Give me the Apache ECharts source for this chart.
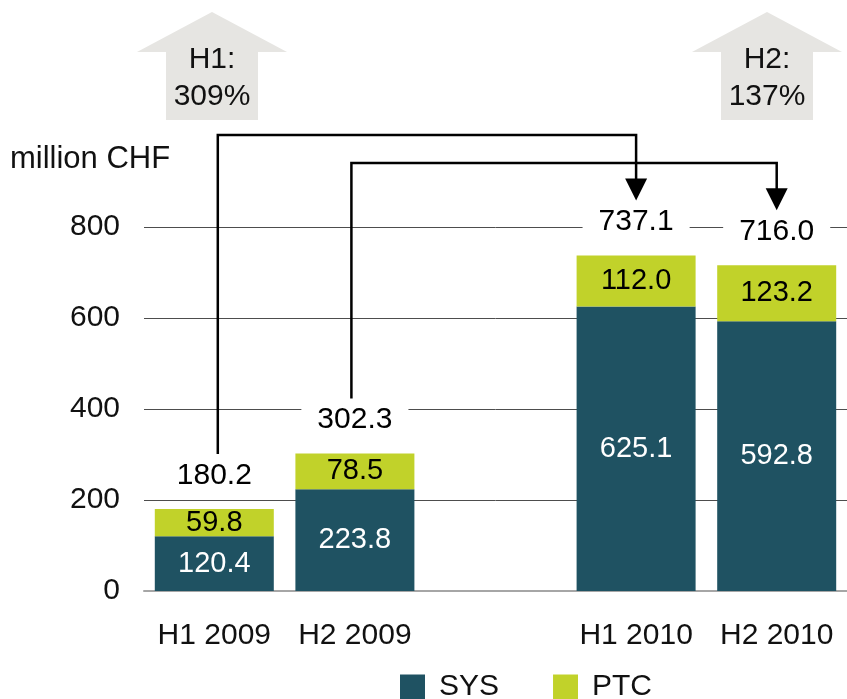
<!DOCTYPE html>
<html>
<head>
<meta charset="utf-8">
<title>SYS / PTC sales by half-year</title>
<script src="https://cdn.jsdelivr.net/npm/echarts@6/dist/echarts.min.js"></script>
<style>
  html, body { margin: 0; padding: 0; background: #ffffff; }
  #chart { width: 847px; height: 699px; }
</style>
</head>
<body>
<div id="chart"></div>
<script>
// Half-year periods; the blank slot separates 2009 from 2010
const categories = ['H1 2009', 'H2 2009', '', 'H1 2010', 'H2 2010'];
// Segment values, million CHF
const sysValues = [120.4, 223.8, null, 625.1, 592.8];
const ptcValues = [59.8, 78.5, null, 112.0, 123.2];
// Value axis
const yMin = 0;
const yMax = 800;
const yStep = 200;
// Year-on-year comparisons: [from period, to period, badge tag]
const comparisons = [
  ['H1 2009', 'H1 2010', 'H1'],
  ['H2 2009', 'H2 2010', 'H2']
];

const totals = sysValues.map((v, i) =>
  v == null ? null : Math.round((v + ptcValues[i]) * 10) / 10);

const FONT = "'Liberation Sans', Arial, Helvetica, sans-serif";
const SYS_COLOR = '#1f5262';
const PTC_COLOR = '#c1d22a';

const chart = echarts.init(document.getElementById('chart'), null, { renderer: 'canvas' });

chart.setOption({
  animation: false,
  backgroundColor: '#ffffff',
  textStyle: { fontFamily: FONT },
  grid: { left: 144, right: -2, top: 227, bottom: 108, containLabel: false },
  legend: {
    data: ['SYS', 'PTC'],
    left: 395,
    top: 667,
    itemWidth: 25,
    itemHeight: 25,
    itemGap: 54,
    icon: 'rect',
    textStyle: { fontFamily: FONT, fontSize: 30, color: '#111', padding: [0, 0, 0, 9] }
  },
  xAxis: {
    type: 'category',
    data: categories,
    axisTick: { show: false },
    axisLine: { show: true, lineStyle: { color: '#a6a6a6', width: 2 } },
    axisLabel: { interval: 0, fontFamily: FONT, fontSize: 30, color: '#111', margin: 30 }
  },
  yAxis: {
    type: 'value',
    min: yMin,
    max: yMax,
    interval: yStep,
    axisLine: { show: false },
    axisTick: { show: false },
    splitLine: { lineStyle: { color: '#4d4d4d', width: 1 } },
    axisLabel: { fontFamily: FONT, fontSize: 30, color: '#111', margin: 24 }
  },
  series: [
    {
      name: 'SYS',
      type: 'bar',
      stack: 'sales',
      barWidth: 119,
      data: sysValues,
      itemStyle: { color: SYS_COLOR },
      label: {
        show: true,
        position: 'inside',
        fontFamily: FONT,
        fontSize: 29,
        color: '#ffffff',
        formatter: p => p.value.toFixed(1)
      }
    },
    {
      name: 'PTC',
      type: 'bar',
      stack: 'sales',
      barWidth: 119,
      data: ptcValues,
      itemStyle: { color: PTC_COLOR },
      label: {
        show: true,
        position: 'inside',
        fontFamily: FONT,
        fontSize: 29,
        color: '#000000',
        formatter: p => p.value.toFixed(1)
      }
    },
    {
      // Period totals written above each stack
      name: 'Total',
      type: 'scatter',
      data: totals,
      symbolSize: 1,
      itemStyle: { color: 'rgba(255,255,255,0)', opacity: 1 },
      silent: true,
      z: 5,
      label: {
        show: true,
        position: 'top',
        distance: 16,
        fontFamily: FONT,
        fontSize: 30,
        lineHeight: 34,
        color: '#000000',
        opacity: 1,
        backgroundColor: '#ffffff',
        padding: [0, 16],
        formatter: p => p.value.toFixed(1)
      }
    }
  ]
});

// Connector arrows and growth badges, placed from the chart's own scale
const railY = [135, 163];      // heights of the horizontal connector runs
const lineGap = 55;            // space kept between bar top and connector end
const startShift = [3.5, -3.5];
const headW = 22;
const headH = 22;

function topOf(cat) {
  const i = categories.indexOf(cat);
  return chart.convertToPixel({ xAxisIndex: 0, yAxisIndex: 0 }, [cat, totals[i]]);
}

const graphics = [];

comparisons.forEach(([from, to], k) => {
  const a = topOf(from);
  const b = topOf(to);
  const x0 = a[0] + startShift[k];
  const y0 = a[1] - lineGap;
  const x1 = b[0];
  const yTip = b[1] - lineGap;
  graphics.push({
    type: 'polyline',
    z: 100,
    shape: { points: [[x0, y0], [x0, railY[k]], [x1, railY[k]], [x1, yTip - headH + 2]] },
    style: { stroke: '#000', lineWidth: 2.5, fill: null }
  });
  graphics.push({
    type: 'polygon',
    z: 100,
    shape: { points: [[x1 - headW / 2, yTip - headH], [x1 + headW / 2, yTip - headH], [x1, yTip]] },
    style: { fill: '#000' }
  });
});

// Growth badges (block arrows) above the chart
const badgeCenters = [212, 767];
comparisons.forEach(([from, to, tag], k) => {
  const t1 = totals[categories.indexOf(from)];
  const t2 = totals[categories.indexOf(to)];
  const pct = Math.round((t2 / t1 - 1) * 100);
  const cx = badgeCenters[k];
  graphics.push({
    type: 'polygon',
    z: 90,
    shape: {
      points: [
        [cx, 12], [cx + 75, 52], [cx + 46, 52], [cx + 46, 120],
        [cx - 46, 120], [cx - 46, 52], [cx - 75, 52]
      ]
    },
    style: { fill: '#e6e5e2' }
  });
  graphics.push({
    type: 'text',
    z: 95,
    x: cx,
    y: 60,
    style: { text: tag + ':', fontFamily: FONT, fontSize: 30, fill: '#111', align: 'center', verticalAlign: 'middle' }
  });
  graphics.push({
    type: 'text',
    z: 95,
    x: cx,
    y: 97,
    style: { text: pct + '%', fontFamily: FONT, fontSize: 30, fill: '#111', align: 'center', verticalAlign: 'middle' }
  });
});

// Unit caption
graphics.push({
  type: 'text',
  z: 95,
  x: 10,
  y: 159,
  style: { text: 'million CHF', fontFamily: FONT, fontSize: 31, fill: '#111', align: 'left', verticalAlign: 'middle' }
});

chart.setOption({ graphic: graphics });
</script>
</body>
</html>
